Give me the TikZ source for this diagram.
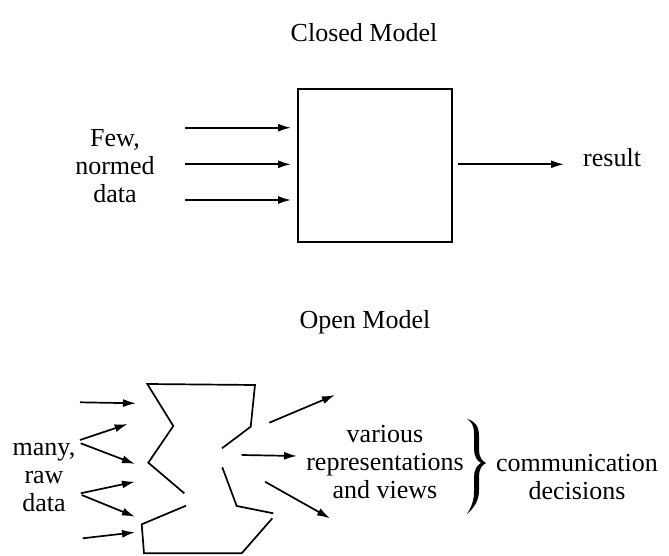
\documentclass[tikz,border=0pt]{standalone}
\usepackage{fontspec}
\setmainfont{Liberation Serif}
\usetikzlibrary{arrows.meta}
\begin{document}
\begin{tikzpicture}[x=1pt,y=-1pt,
  lbl/.style={font=\fontsize{26}{28}\selectfont, inner sep=0pt, align=center},
  ln/.style={line width=1.7pt, line join=miter},
  arr/.style={line width=1.7pt, -{Latex[length=13pt,width=8pt]}}]
\useasboundingbox (0,0) rectangle (669,556);

% ---------- Closed model ----------
\node[lbl, anchor=base] (tclosed) at (364,42) {Closed Model};
\node[draw, line width=1.7pt, minimum width=154pt, minimum height=153pt, inner sep=0pt] (box) at (375,165.5) {};
\node[lbl] (few) at (115,166) {Few,\\normed\\data};
\node[lbl, anchor=base west] (result) at (583,167) {result};

\coordinate (i1s) at (185,127.7); \coordinate (i1e) at (291,127.7);
\coordinate (i2s) at (185,164.3); \coordinate (i2e) at (291,164.3);
\coordinate (i3s) at (185,200);   \coordinate (i3e) at (291,200);
\coordinate (os) at (458,164.3);  \coordinate (oe) at (564,164.3);
\draw[arr] (i1s) -- (i1e);
\draw[arr] (i2s) -- (i2e);
\draw[arr] (i3s) -- (i3e);
\draw[arr] (os) -- (oe);

% ---------- Open model ----------
\node[lbl, anchor=base] (topen) at (365,328) {Open Model};
\node[lbl] (many) at (44,477) {many,\\raw\\data};
\node[lbl] (various) at (385,462) {various\\representations\\and views};
\node[lbl] (comm) at (577,477) {communication\\decisions};

% open shape
\coordinate (s1) at (184.3,493.3);
\coordinate (s2) at (148.3,462.7);
\coordinate (s3) at (173.3,426);
\coordinate (s4) at (147.3,384);
\coordinate (s5) at (255,385);
\coordinate (s6) at (250.7,426.7);
\coordinate (s7) at (222,448.3);
\coordinate (s8) at (186,505.7);
\coordinate (s9) at (141.7,524.3);
\coordinate (s10) at (144,553.3);
\coordinate (s11) at (241.7,553.3);
\coordinate (s12) at (272.3,518.3);
\coordinate (s13) at (222.3,467.3);
\coordinate (s14) at (236.7,506);
\coordinate (s15) at (273.3,513.3);
\draw[ln] (s1) -- (s2) -- (s3) -- (s4) -- (s5) -- (s6) -- (s7);
\draw[ln] (s8) -- (s9) -- (s10) -- (s11) -- (s12);
\draw[ln] (s13) -- (s14) -- (s15);

% input arrows
\coordinate (a1s) at (80,402.3);   \coordinate (a1e) at (136,403.3);
\coordinate (a2s) at (80,440);     \coordinate (a2e) at (127.7,424);
\coordinate (a3s) at (80.7,443.3); \coordinate (a3e) at (135,464);
\coordinate (a4s) at (80.7,493.3); \coordinate (a4e) at (135,481.7);
\coordinate (a5s) at (81.7,495);   \coordinate (a5e) at (135,516.7);
\coordinate (a6s) at (82.7,538.3); \coordinate (a6e) at (135,532.3);
\draw[arr] (a1s) -- (a1e);
\draw[arr] (a2s) -- (a2e);
\draw[arr] (a3s) -- (a3e);
\draw[arr] (a4s) -- (a4e);
\draw[arr] (a5s) -- (a5e);
\draw[arr] (a6s) -- (a6e);

% output arrows
\coordinate (b1s) at (269.3,422.7); \coordinate (b1e) at (335,395);
\coordinate (b2s) at (241.7,455);   \coordinate (b2e) at (297,456);
\coordinate (b3s) at (265,481.7);   \coordinate (b3e) at (330,518.3);
\draw[arr] (b1s) -- (b1e);
\draw[arr] (b2s) -- (b2e);
\draw[arr] (b3s) -- (b3e);

% brace
\fill (467,419) .. controls (475,421) and (479,426) .. (479,436) -- (479,450)
  .. controls (479,457) and (482,461) .. (486,463)
  .. controls (482,465) and (479,469) .. (479,476) -- (479,490)
  .. controls (479,500) and (475,507) .. (467,514)
  .. controls (472,506) and (474,500) .. (474,492) -- (474,477)
  .. controls (474,470) and (477,465) .. (481,463)
  .. controls (477,461) and (474,456) .. (474,449) -- (474,434)
  .. controls (474,426) and (472,422) .. (467,419) -- cycle;
\end{tikzpicture}
\end{document}
